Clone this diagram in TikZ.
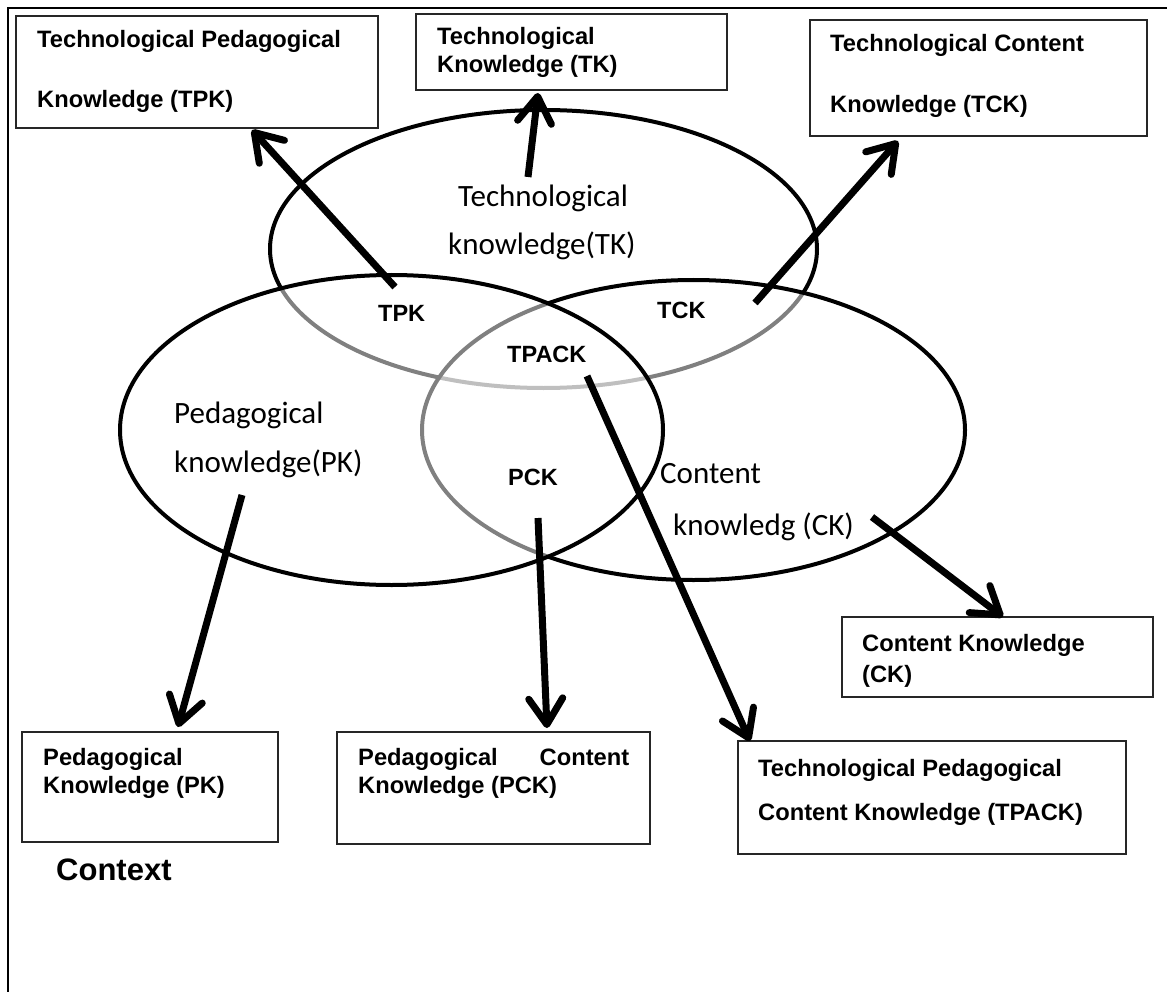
\documentclass[tikz,border=0pt]{standalone}
\usepackage{fontspec}
\setmainfont{Liberation Sans}
\newfontfamily\calfont{Carlito}
\usetikzlibrary{arrows.meta,calc}

\begin{document}
\begin{tikzpicture}[x=1pt,y=-1pt,
  ring/.style={line width=4pt, fill=white, fill opacity=0.5},
  infobox/.style={draw=black!85, line width=1.4pt, inner sep=0pt, outer sep=0pt, anchor=north west},
  boxtext/.style={inner sep=0pt, anchor=base west, font=\bfseries\fontsize{23.7}{28}\selectfont},
  tag/.style={inner sep=0pt, anchor=base west, font=\bfseries\fontsize{23.5}{28}\selectfont},
  ringtext/.style={inner sep=0pt, anchor=base west, font=\calfont\fontsize{31}{40}\selectfont},
  arr/.style={line width=7pt, -{Straight Barb[length=26pt,width=34pt,round]}}]

\useasboundingbox (0,0) rectangle (1167,992);

% outer frame (top and left edges)
\draw[line width=2.5pt] (8,992) -- (8,8) -- (1167,8);

% the three knowledge domains
\draw[ring] (543.5,249) ellipse [x radius=273.5, y radius=139];
\draw[ring] (693.5,430) ellipse [x radius=271.5, y radius=150];
\draw[ring] (391.5,430) ellipse [x radius=271.5, y radius=155];

% domain captions
\node[ringtext] (tkcap1) at (458,207) {Technological};
\node[ringtext] (tkcap2) at (448,255) {knowledge(TK)};
\node[ringtext] (pkcap1) at (174,423) {Pedagogical};
\node[ringtext] (pkcap2) at (174,472) {knowledge(PK)};
\node[ringtext] (ckcap1) at (660,483) {Content};
\node[ringtext] (ckcap2) at (673,535) {knowledg (CK)};

% intersection tags
\node[tag] (tpktag) at (378,321) {TPK};
\node[tag] (tcktag) at (657,318) {TCK};
\node[tag] (tpacktag) at (507,362) {TPACK};
\node[tag] (pcktag) at (508,485) {PCK};

% definition boxes
\node[infobox, minimum width=362pt, minimum height=112pt] (tpkbox) at (16,16) {};
\node[boxtext] (tpkl1) at (37,48) {Technological Pedagogical};
\node[boxtext] (tpkl2) at (37,108) {Knowledge (TPK)};

\node[infobox, minimum width=311pt, minimum height=76pt] (tkbox) at (416,14) {};
\node[boxtext] (tkl1) at (437,45) {Technological};
\node[boxtext] (tkl2) at (437,73) {Knowledge (TK)};

\node[infobox, minimum width=337pt, minimum height=116pt] (tckbox) at (810,20) {};
\node[boxtext] (tckl1) at (830,52) {Technological Content};
\node[boxtext] (tckl2) at (830,113) {Knowledge (TCK)};

\node[infobox, minimum width=256pt, minimum height=110pt] (pkbox) at (22,732) {};
\node[boxtext] (pkl1) at (43,765) {Pedagogical};
\node[boxtext] (pkl2) at (43,793) {Knowledge (PK)};

\node[infobox, minimum width=313pt, minimum height=112pt] (pckbox) at (337,732) {};
\node[boxtext] (pckl1) at (358,765) {\hbox to 271pt{Pedagogical\hfill Content}};
\node[boxtext] (pckl2) at (358,793) {Knowledge (PCK)};

\node[infobox, minimum width=311pt, minimum height=80pt] (ckbox) at (842,617) {};
\node[boxtext] (ckl1) at (862,651) {Content Knowledge};
\node[boxtext] (ckl2) at (862,682) {(CK)};

\node[infobox, minimum width=388pt, minimum height=113pt] (tpackbox) at (738,741) {};
\node[boxtext] (tpackl1) at (758,776) {Technological Pedagogical};
\node[boxtext] (tpackl2) at (758,820) {Content Knowledge (TPACK)};

\node[inner sep=0pt, anchor=base west, font=\bfseries\fontsize{31}{36}\selectfont] (context) at (56,880) {Context};

% arrow origins
\coordinate (tpkfrom) at (395,287);
\coordinate (tkfrom) at (528,177);
\coordinate (tckfrom) at (755,303);
\coordinate (tpackfrom) at (587,376);
\coordinate (pckfrom) at (538,518);
\coordinate (pkfrom) at (242,495);
\coordinate (ckfrom) at (872,517);

% arrows to the definition boxes
\draw[arr] (tpkfrom) -- ($(tpkbox.south west)+(236,2)$);
\draw[arr] (tkfrom) -- ($(tkbox.south west)+(122,3)$);
\draw[arr] (tckfrom) -- ($(tckbox.south west)+(88,5)$);
\draw[arr] (tpackfrom) -- ($(tpackbox.north west)+(12,0)$);
\draw[arr] (pckfrom) -- ($(pckbox.north west)+(210,-4)$);
\draw[arr] (pkfrom) -- ($(pkbox.north west)+(156,-5)$);
\draw[arr] (ckfrom) -- ($(ckbox.north west)+(161,0)$);
\end{tikzpicture}
\end{document}
